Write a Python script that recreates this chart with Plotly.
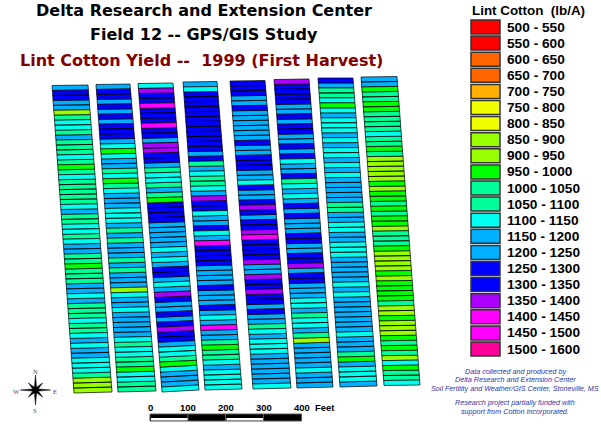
import math
import plotly.graph_objects as go

# Legend classes (lb/A)
class_labels = ["500 - 550","550 - 600","600 - 650","650 - 700","700 - 750","750 - 800","800 - 850",
                "850 - 900","900 - 950","950 - 1000","1000 - 1050","1050 - 1100","1100 - 1150",
                "1150 - 1200","1200 - 1250","1250 - 1300","1300 - 1350","1350 - 1400","1400 - 1450",
                "1450 - 1500","1500 - 1600"]
class_low = [500,550,600,650,700,750,800,850,900,950,1000,1050,1100,1150,1200,1250,1300,1350,1400,1450,1500]
class_colors = ["#ff0000","#ff0000","#ff6600","#ff6600","#ffb000","#f0ff00","#f0ff00","#99ff00","#99ff00",
                "#00ff00","#00ff99","#00ff99","#00ffee","#00b0ff","#00b0ff","#0000ff","#0000ff","#aa00ff",
                "#ff00ff","#ff00ff","#ff0099"]

# Yield per cell, north to south, one list per strip
strip1 = [1175,1300,1300,1175,1175,900,1050,1125,1125,1050,1175,1050,1050,1050,1125,1050,975,1050,1125,1050,1050,1050,1050,1050,1125,1175,1050,1050,1125,1125,1050,
          1125,1175,1175,1050,1050,975,1050,1050,1050,1175,1175,1125,1175,1050,1050,1050,1125,1050,1050,1125,1175,1125,1175,1175,1125,1125,1125,1050,900,900,900]
strip2 = [1175,1300,1300,1175,1300,1175,1300,1175,1300,1300,1300,1175,1125,975,1125,1175,1175,1050,1125,975,1050,1125,1175,1175,1175,1125,1125,1125,1175,1050,1175,
          1050,1175,1175,1175,1050,1175,1050,1175,1175,1175,900,1125,1175,1175,1125,1175,1175,1175,1175,1175,1125,1050,1125,1125,1050,1050,975,1125,1125,1050,1050]
strip3 = [1125,1375,1300,1300,1450,1300,1300,1300,1450,1300,1300,1175,1375,1375,1300,1300,1175,1050,1125,1125,1050,1175,1050,975,1300,1300,1300,1300,1175,1175,1175,
          1175,1175,1125,1175,1125,1175,1300,1300,1175,1125,1175,1375,1300,1175,1175,1300,1175,1300,1375,1300,1300,1175,1125,1125,1050,975,1125,1175,1175,1175,1125]
strip4 = [1175,1125,1300,1300,1300,1300,1300,1300,1300,1300,1300,1300,1300,1300,1175,1300,1050,1175,1125,1050,1050,1125,1175,1375,1300,1300,1125,1175,1175,1300,1125,
          1175,1450,1300,1300,1300,1300,1175,1175,1175,1175,1300,1175,1175,1175,1300,1175,1125,1175,1450,1175,1175,1050,975,1050,1050,1125,1175,1125,1125,1125,1125]
strip5 = [1300,1300,1300,1175,1175,1300,1175,1175,1175,1175,1175,1175,1300,1175,1175,1300,1300,1300,1175,1175,1125,1300,1175,1175,1300,1375,1300,1175,1300,1300,1375,
          1450,1300,1300,1300,1300,1375,1175,1175,1375,1300,1300,1375,1300,1300,1175,1300,1175,1175,1050,1125,1175,1125,1125,1125,1175,1175,1175,1175,1175,1175,1125]
strip6 = [1375,1300,1300,1300,1300,1175,1175,1300,1175,1300,1300,1175,1175,1300,1175,1300,1125,1175,1175,1300,1050,1125,1175,1125,1175,1300,1175,1300,1175,1175,1175,
          1300,1300,1175,1175,1300,1300,1375,1175,1300,1300,1175,1175,1175,1125,1125,1175,1050,1125,1125,1175,1050,900,1175,1175,1175,1175,1175,1125,1175,1175,1175]
strip7 = [1300,1175,1050,1050,1125,975,1125,1175,1125,1125,1125,1175,1125,1175,1125,1125,1175,1125,1175,1125,1175,1175,1175,1175,1175,1050,1050,1175,1175,1125,1125,
          1175,1175,1125,1125,1125,1175,1175,1175,1175,1175,1125,1175,1125,1175,1175,1175,1175,1175,1175,1175,1125,1175,1175,1175,1050,975,1175,1125,1125,1125,1175]
strip8 = [1175,1175,975,1050,1050,975,975,1050,1050,1050,1050,1125,1050,1050,975,1050,900,900,900,900,900,975,900,975,975,1050,975,1050,975,975,900,
          1050,1050,1050,975,900,900,900,900,975,900,975,975,975,975,1050,900,900,975,900,900,900,975,1050,975,1050,900,1125,975,1050,1050,1125]
strips = [strip1, strip2, strip3, strip4, strip5, strip6, strip7, strip8]

# Map frame of each strip: top-left, top-right, bottom-right, bottom-left
frames = [
    ((52,85.5),(88,85),(112,392),(74,393)),
    ((96,84.5),(130,84),(156,391),(118,392)),
    ((138,83.5),(173,83),(199,390),(162,392)),
    ((183,82),(217,81.5),(242,389),(205,390)),
    ((230,81),(265,80.5),(291,388),(253,389)),
    ((274,79.5),(309,79),(333,387),(297,388)),
    ((318,78),(353,78),(377,386),(340,387)),
    ((361,77),(397,76.5),(420,385),(384,385.5)),
]

def color_of(v):
    idx = max(i for i, low in enumerate(class_low) if v >= low)
    return class_colors[idx]

def lerp(a, b, t):
    return (a[0]+(b[0]-a[0])*t, a[1]+(b[1]-a[1])*t)

groups = {}
for vals, (tl, tr, br, bl) in zip(strips, frames):
    n = len(vals)
    for i, v in enumerate(vals):
        a = lerp(tl, bl, i/n); b = lerp(tr, br, i/n)
        c = lerp(tr, br, (i+1)/n); d = lerp(tl, bl, (i+1)/n)
        g = groups.setdefault(color_of(v), ([], []))
        g[0].extend([a[0], b[0], c[0], d[0], a[0], None])
        g[1].extend([a[1], b[1], c[1], d[1], a[1], None])

fig = go.Figure()
for col, (xs, ys) in groups.items():
    fig.add_trace(go.Scatter(x=xs, y=ys, mode="lines", fill="toself", fillcolor=col,
                             line=dict(color="#000000", width=0.7), hoverinfo="skip", showlegend=False))

ann = []
def text(x, y, s, size, color="#000000", anchor="center", family="Liberation Sans"):
    ann.append(dict(x=x, y=y, xref="x", yref="y", text=s, showarrow=False, xanchor=anchor, yanchor="middle",
                    font=dict(family=family, size=size, color=color)))

text(204, 10.5, "<b>Delta Research and Extension Center</b>", 16, family="DejaVu Sans")
text(204, 34.5, "<b>Field 12 -- GPS/GIS Study</b>", 16, family="DejaVu Sans")
text(201, 60.5, "<b>Lint Cotton Yield --  1999 (First Harvest)</b>", 16, "#800000", family="DejaVu Sans")

shapes = []
text(528, 10, "<b>Lint Cotton  (lb/A)</b>", 13.4)
for i, (lab, col) in enumerate(zip(class_labels, class_colors)):
    y = 27 + i*16.1
    shapes.append(dict(type="rect", xref="x", yref="y", x0=471, x1=500, y0=y-7, y1=y+7,
                       fillcolor=col, line=dict(color="#333333", width=1.5)))
    text(505, y, f"<b>{lab}</b>", 13.7, anchor="left")

credit = "#3333aa"
for y, s in [(371.5, "Data collected and produced by"), (379.5, "Delta Research and Extension Center"),
             (388, "Soil Fertility and Weather/GIS Center, Stoneville, MS"),
             (402.5, "Research project partially funded with"), (411, "support from Cotton Incorporated.")]:
    text(515, y, f"<i>{s}</i>", 7.2, credit)

# Scale bar
bar_x = [150, 188, 225.5, 263.5, 301.5]
for v, x in zip(["0","100","200","300","400"], bar_x):
    text(x, 407, f"<b>{v}</b>", 9.5)
text(325, 407, "<b>Feet</b>", 9.5)
for i in range(4):
    shapes.append(dict(type="rect", xref="x", yref="y", x0=bar_x[i], x1=bar_x[i+1], y0=414, y1=421,
                       fillcolor="#000000", line=dict(color="#555555", width=1)))
    if i % 2 == 0:
        shapes.append(dict(type="rect", xref="x", yref="y", x0=bar_x[i]+1, x1=bar_x[i+1], y0=418, y1=420.5,
                           fillcolor="#ffffff", line=dict(width=0)))

# Compass rose
cx, cy = 35.5, 390
pts = []
for k in range(16):
    ang = k*math.pi/8
    r = 15 if k % 4 == 0 else (10 if k % 4 == 2 else 3)
    pts.append(f"{cx+r*math.sin(ang):.1f},{cy-r*math.cos(ang):.1f}")
shapes.append(dict(type="path", xref="x", yref="y", path="M"+" L".join(pts)+" Z",
                   fillcolor="#000000", line=dict(color="#000000", width=0.5)))
for s, x, y in [("N",35,371.5),("S",35,410),("W",16,391.5),("E",54.5,391.5)]:
    text(x, y, s, 6.5, "#444444", family="Liberation Serif")

fig.update_layout(
    width=601, height=432, margin=dict(l=0, r=0, t=0, b=0),
    paper_bgcolor="#ffffff", plot_bgcolor="#ffffff", showlegend=False,
    xaxis=dict(range=[0,601], visible=False, fixedrange=True),
    yaxis=dict(range=[432,0], visible=False, fixedrange=True),
    shapes=shapes, annotations=ann,
)
fig.write_html("out.html", config={"displayModeBar": False},
               post_script="document.body.style.margin='0';document.documentElement.style.overflow='hidden';")
